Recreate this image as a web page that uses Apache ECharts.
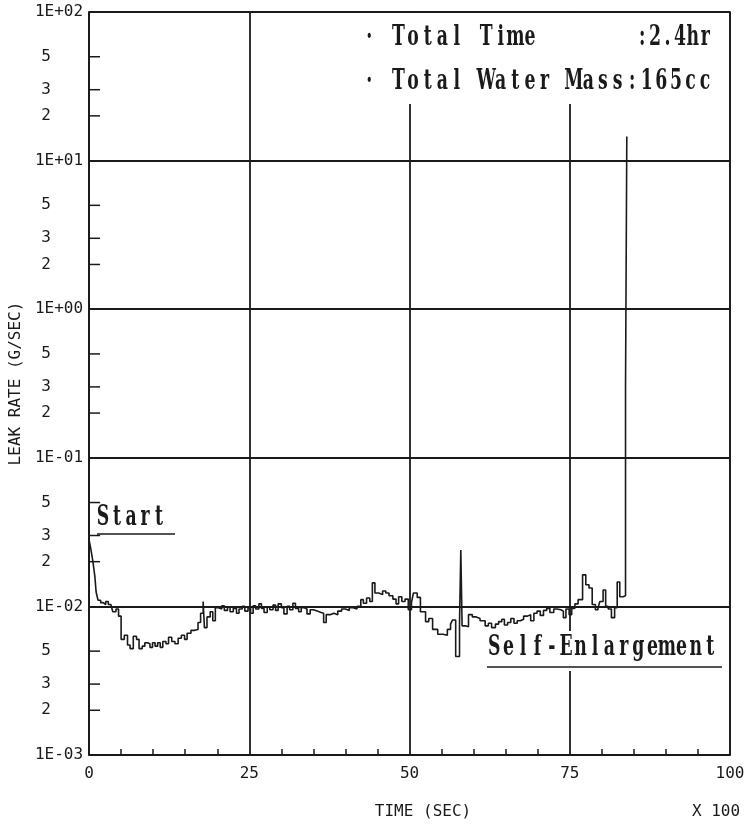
<!DOCTYPE html>
<html>
<head>
<meta charset="utf-8">
<script src="https://cdn.jsdelivr.net/npm/echarts@6/dist/echarts.min.js"></script>
<style>
  html, body { margin: 0; padding: 0; background: #fff; }
  #chart { width: 750px; height: 829px; }
</style>
</head>
<body>
<div id="chart"></div>
<script>
// Elapsed time (x100 s) at each recorder step
const timeSteps = [
  0.0, 0.3, 0.6, 0.9, 1.1, 1.4, 1.8, 2.2, 2.6, 3.0, 3.4, 3.7, 4.2, 4.6,
  5.0, 5.5, 6.0, 6.4, 6.9, 7.4, 7.8, 8.3, 8.7, 9.1, 9.5, 9.9, 10.3, 10.7,
  11.1, 11.5, 12.0, 12.4, 12.9, 13.4, 13.9, 14.4, 14.9, 15.3, 15.9, 16.5,
  17.0, 17.4, 17.8, 18.0, 18.4, 18.9, 19.3, 19.7, 20.2, 20.7, 21.1, 21.6,
  22.0, 22.5, 23.0, 23.4, 23.9, 24.3, 24.8, 25.2, 25.6, 26.0, 26.5, 26.9,
  27.3, 27.8, 28.2, 28.7, 29.1, 29.5, 30.0, 30.4, 30.9, 31.3, 31.8, 32.2,
  32.7, 33.1, 33.6, 34.0, 34.5, 35.0, 35.6, 36.2, 36.6, 37.0, 37.6, 38.2,
  38.8, 39.4, 40.0, 40.6, 41.2, 41.8, 42.4, 42.8, 43.3, 43.8, 44.2, 44.6,
  45.2, 45.8, 46.3, 46.8, 47.4, 47.9, 48.3, 48.8, 49.3, 49.8, 50.3, 50.6,
  51.2, 51.7, 52.5, 53.0, 53.6, 54.4, 55.2, 55.9, 56.4, 56.7, 57.2, 57.8,
  58.0, 58.2, 58.7, 59.2, 59.8, 60.4, 61.0, 61.8, 62.3, 62.8, 63.4, 63.9,
  64.4, 64.8, 65.3, 65.8, 66.3, 66.8, 67.3, 67.8, 68.4, 68.9, 69.4, 69.9,
  70.4, 70.9, 71.4, 71.9, 72.5, 73.0, 73.6, 74.0, 74.4, 74.9, 75.3, 75.8,
  76.3, 77.0, 77.5, 78.0, 78.5, 79.0, 79.4, 79.7, 80.2, 80.6, 81.0, 81.5,
  82.0, 82.4, 82.8, 83.3, 83.7, 83.9
];

// Leak rate (g/s) held from each step until the next one
const leakRate = [
  0.028, 0.024, 0.020, 0.016, 0.0125, 0.011, 0.0106, 0.0103, 0.0108, 0.0103, 0.0100, 0.0092, 0.0096, 0.0086,
  0.0060, 0.0064, 0.0055, 0.0052, 0.0063, 0.0060, 0.0052, 0.0054, 0.0057, 0.0056, 0.0053, 0.0057, 0.0054, 0.0057,
  0.0053, 0.0058, 0.0056, 0.0062, 0.0058, 0.0056, 0.0061, 0.0064, 0.0060, 0.0066, 0.0069, 0.0070,
  0.0078, 0.0090, 0.0108, 0.0072, 0.0085, 0.0092, 0.0080, 0.0098, 0.0096, 0.0101, 0.0094, 0.0099,
  0.0092, 0.0097, 0.0090, 0.0096, 0.0100, 0.0093, 0.0098, 0.0090, 0.0101, 0.0096, 0.0104, 0.0097,
  0.0091, 0.0099, 0.0095, 0.0102, 0.0094, 0.0104, 0.0098, 0.0089, 0.0100, 0.0095, 0.0105, 0.0097,
  0.0092, 0.0098, 0.0096, 0.0089, 0.0095, 0.0093, 0.0091, 0.0090, 0.0078, 0.0088, 0.0090, 0.0088,
  0.0093, 0.0096, 0.0094, 0.0098, 0.0096, 0.0100, 0.0111, 0.0105, 0.0114, 0.0108, 0.0144, 0.0123,
  0.0120, 0.0127, 0.0123, 0.0118, 0.0112, 0.0104, 0.0116, 0.0108, 0.0112, 0.0095, 0.0106, 0.0123,
  0.0115, 0.0092, 0.0079, 0.0083, 0.0070, 0.0065, 0.0064, 0.0070, 0.0076, 0.0081, 0.0046, 0.0078,
  0.024, 0.0074, 0.0073, 0.0088, 0.0085, 0.0083, 0.0080, 0.0074, 0.0077, 0.0072, 0.0076, 0.0079,
  0.0082, 0.0075, 0.0078, 0.0083, 0.0077, 0.0080, 0.0082, 0.0086, 0.0088, 0.0080, 0.0090, 0.0093,
  0.0087, 0.0094, 0.0097, 0.0091, 0.0096, 0.0095, 0.0093, 0.0084, 0.0096, 0.0088, 0.0097, 0.0104,
  0.0111, 0.0163, 0.0140, 0.0133, 0.0103, 0.0095, 0.0098, 0.0108, 0.0129, 0.0100, 0.0096, 0.0084,
  0.0098, 0.0146, 0.0116, 0.0118, 0.30, 14.5
];

// Axis ticks
const xTickLabels = ['0', '25', '50', '75', '100'];
const decades = [0.001, 0.01, 0.1, 1, 10];
const minorFactors = [2, 3, 5];

const ink = '#1a1a1a';
const tickFont = '16px "DejaVu Sans Mono"';
const noteFont = 'bold 27px "DejaVu Serif"';

const minorValues = [];
decades.forEach(d => minorFactors.forEach(f => minorValues.push([0, +(d * f).toPrecision(3)])));

function decadeLabel(v) {
  const e = Math.round(Math.log10(v));
  const s = e < 0 ? '-' : '+';
  const a = Math.abs(e);
  return '1E' + s + (a < 10 ? '0' : '') + a;
}

// typewriter-style note: each character sits in a fixed-width cell, glyphs squeezed narrow
function noteText(x, y, text, cell, squeeze) {
  const children = Array.from(text).map((ch, i) => ({
    type: 'text', x: i * cell + cell / 2, y: 0, scaleX: squeeze, z: 110,
    style: { text: ch, font: noteFont, fill: ink, align: 'center', verticalAlign: 'middle',
             textAlign: 'center', textVerticalAlign: 'middle' }
  }));
  return { type: 'group', x: x, y: y, z: 110, silent: true, children: children };
}

const chart = echarts.init(document.getElementById('chart'), null, { renderer: 'canvas' });

const option = {
  backgroundColor: '#ffffff',
  animation: false,
  grid: {
    left: 88, right: 20, top: 12, bottom: 74,
    show: true, borderColor: ink, borderWidth: 1.5, backgroundColor: 'transparent'
  },
  xAxis: {
    type: 'value', min: 0, max: 100, interval: 25,
    axisLine: { show: true, lineStyle: { color: ink, width: 1.5 } },
    axisTick: { show: false, inside: true },
    minorTick: { show: true, splitNumber: 5, length: 6, lineStyle: { color: ink, width: 1.5 } },
    splitLine: { show: true, lineStyle: { color: ink, width: 1.8 } },
    axisLabel: {
      margin: 11, color: ink, fontFamily: 'DejaVu Sans Mono', fontSize: 16,
      formatter: v => xTickLabels[Math.round(v / 25)]
    }
  },
  yAxis: {
    type: 'log', logBase: 10, min: 0.001, max: 100,
    axisLine: { show: true, lineStyle: { color: ink, width: 1.5 } },
    axisTick: { show: false },
    splitLine: { show: true, lineStyle: { color: ink, width: 1.8 } },
    axisLabel: {
      margin: 6, color: ink, fontFamily: 'DejaVu Sans Mono', fontSize: 16,
      formatter: v => decadeLabel(v)
    },
    name: 'LEAK RATE (G/SEC)', nameLocation: 'middle', nameRotate: 90, nameGap: 57,
    nameTextStyle: { color: ink, fontFamily: 'DejaVu Sans Mono', fontSize: 16 }
  },
  series: [
    {
      type: 'line', step: 'end', showSymbol: false, z: 5,
      lineStyle: { color: ink, width: 1.6 },
      data: timeSteps.map((t, i) => [t, leakRate[i]])
    },
    {
      // minor ticks and their labels (2, 3, 5) inside each decade
      type: 'custom', silent: true, clip: false, z: 4,
      data: minorValues,
      renderItem: (params, api) => {
        const v = api.value(1);
        const p = api.coord([api.value(0), v]);
        const m = Math.round(v / Math.pow(10, Math.floor(Math.log10(v) + 1e-9)));
        return {
          type: 'group',
          children: [
            { type: 'line', shape: { x1: p[0], y1: p[1], x2: p[0] + 11, y2: p[1] },
              style: { stroke: ink, lineWidth: 1.5 } },
            { type: 'text', x: p[0] - 43, y: p[1],
              style: { text: String(m), font: tickFont, fill: ink, align: 'center', verticalAlign: 'middle' } }
          ]
        };
      }
    }
  ],
  graphic: [
    // summary box in the upper right
    { type: 'rect', z: 100, silent: true, shape: { x: 356, y: 13, width: 372, height: 91 },
      style: { fill: '#ffffff', stroke: null } },
    noteText(362, 38, '\u00b7 Total Time', 14.6, 0.64),
    noteText(636, 38, ':2.4hr', 12.6, 0.64),
    noteText(362, 82, '\u00b7 Total Water Mass:165cc', 14.6, 0.64),
    // "Start" marker
    noteText(96, 518, 'Start', 14.0, 0.64),
    { type: 'line', z: 110, silent: true, shape: { x1: 97, y1: 534, x2: 175, y2: 534 },
      style: { stroke: ink, lineWidth: 1.6 } },
    // "Self-Enlargement" marker
    { type: 'rect', z: 100, silent: true, shape: { x: 484, y: 631, width: 242, height: 40 },
      style: { fill: '#ffffff', stroke: null } },
    noteText(487, 648, 'Self-Enlargement', 14.4, 0.64),
    { type: 'line', z: 110, silent: true, shape: { x1: 487, y1: 667, x2: 722, y2: 667 },
      style: { stroke: ink, lineWidth: 1.6 } },
    // x axis caption
    { type: 'text', x: 423, y: 812, z: 110, silent: true,
      style: { text: 'TIME (SEC)', font: tickFont, fill: ink, align: 'center', verticalAlign: 'middle',
               textAlign: 'center', textVerticalAlign: 'middle' } },
    { type: 'text', x: 716, y: 812, z: 110, silent: true,
      style: { text: 'X 100', font: tickFont, fill: ink, align: 'center', verticalAlign: 'middle',
               textAlign: 'center', textVerticalAlign: 'middle' } }
  ]
};

chart.setOption(option);
</script>
</body>
</html>
